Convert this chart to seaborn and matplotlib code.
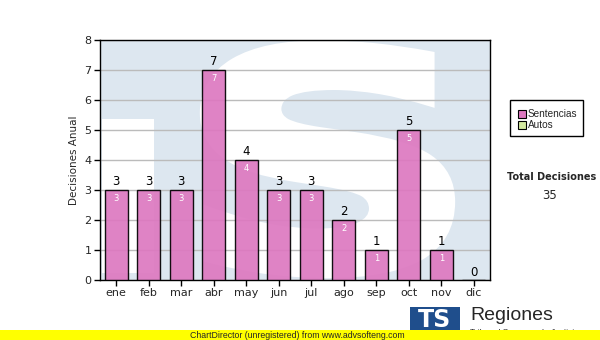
import matplotlib
matplotlib.use("Agg")
import matplotlib.pyplot as plt
from matplotlib.patches import Rectangle, PathPatch
from matplotlib.textpath import TextPath
from matplotlib.font_manager import FontProperties
from matplotlib.transforms import Affine2D
import seaborn as sns
import pandas as pd

# =========================
# Data
# =========================
MESES = ["ene", "feb", "mar", "abr", "may", "jun", "jul", "ago", "sep", "oct", "nov", "dic"]
SENTENCIAS = [3, 3, 3, 7, 4, 3, 3, 2, 1, 5, 1, 0]
SERIES = ["Sentencias", "Autos"]
TOTAL = 35

BAR_COLOR = "#dd78c0"
AUTOS_COLOR = "#d4eaa0"
WATERMARK = "#dde7f0"

df = pd.DataFrame({"mes": MESES, "valor": SENTENCIAS})

sns.set_style("white")
plt.rcParams["font.family"] = ["DejaVu Sans"]

fig = plt.figure(figsize=(6, 3.4), dpi=100)
ax = fig.add_axes([100 / 600, 1 - 280 / 340, 390 / 600, 240 / 340])

# =========================
# Watermark (light logo behind bars)
# =========================
ax.set_facecolor(WATERMARK)
ax.add_patch(Rectangle((-0.45, 0.23), 1.6, 5.14, facecolor="white", edgecolor="none", zorder=0))

s_path = TextPath((0, 0), "S", size=1, prop=FontProperties(family="DejaVu Sans", weight="bold"))
ext = s_path.get_extents()
x0, x1, y0, y1 = 2.7, 10.3, 0.2, 7.85
tr = (Affine2D().translate(-ext.x0, -ext.y0)
      .scale((x1 - x0) / ext.width, (y1 - y0) / ext.height)
      .translate(x0, y0))
ax.add_patch(PathPatch(tr.transform_path(s_path), facecolor="white", edgecolor="white",
                       linewidth=6, zorder=0.5))

# =========================
# Bars
# =========================
sns.barplot(data=df, x="mes", y="valor", color=BAR_COLOR, width=0.7,
            edgecolor="black", linewidth=1.0, saturation=1, ax=ax, zorder=3, alpha=0.92)

ax.set_ylim(0, 8)
ax.set_xlim(-0.5, 11.5)
ax.set_yticks(range(0, 9))
ax.yaxis.grid(True, color="#bbbbbb", linewidth=1.0, zorder=1)
ax.set_axisbelow(True)
for s in ax.spines.values():
    s.set_color("black")
    s.set_linewidth(1.0)
ax.tick_params(axis="both", length=4, width=1, color="black", labelsize=8, direction="out", pad=2)
ax.tick_params(axis="x", top=False, bottom=True)
ax.tick_params(axis="y", left=True)
ax.set_xlabel("")
ax.set_ylabel("Decisiones Anual", fontsize=7.5, labelpad=4)

# value labels
for i, v in enumerate(SENTENCIAS):
    ax.text(i, v + 0.05, str(v), ha="center", va="bottom", fontsize=8.5, color="black", zorder=5)
    if v > 0:
        ax.text(i, v - 0.12, str(v), ha="center", va="top", fontsize=6, color="white", zorder=5)

# =========================
# Legend + total
# =========================
fig.patches.append(Rectangle((510 / 600, 1 - 136 / 340), 73 / 600, 36 / 340, transform=fig.transFigure,
                             facecolor="white", edgecolor="black", linewidth=1))
for k, (name, col) in enumerate(zip(SERIES, [BAR_COLOR, AUTOS_COLOR])):
    yy = 114 + k * 11
    fig.patches.append(Rectangle((518 / 600, 1 - (yy + 4) / 340), 8 / 600, 8 / 340, transform=fig.transFigure,
                                 facecolor=col, edgecolor="black", linewidth=0.8))
    fig.text(528 / 600, 1 - yy / 340, name, fontsize=7.2, va="center", ha="left", family="Liberation Sans")

fig.text(552 / 600, 1 - 177 / 340, "Total Decisiones", fontsize=7, fontweight="bold", ha="center", va="center")
fig.text(550 / 600, 1 - 196 / 340, str(TOTAL), fontsize=8.5, ha="center", va="center")

# =========================
# Logo + footer
# =========================
fig.patches.append(Rectangle((410 / 600, 0), 50 / 600, 33 / 340, transform=fig.transFigure,
                             facecolor="#1f4e8c", edgecolor="none"))
fig.text(435 / 600, 1 - 320 / 340, "TS", fontsize=17, fontweight="bold", color="white",
         ha="center", va="center")
fig.text(470 / 600, 1 - 316 / 340, "Regiones", fontsize=14, ha="left", va="center", family="Liberation Sans")
fig.text(470 / 600, 1 - 333 / 340, "Tribunal Supremo de Justicia", fontsize=6, ha="left", va="center",
         family="Liberation Sans")

fig.patches.append(Rectangle((0, 0), 1, 10 / 340, transform=fig.transFigure,
                             facecolor="#ffff00", edgecolor="none", zorder=10))
fig.text(190 / 600, 1 - 335 / 340, "ChartDirector (unregistered) from www.advsofteng.com",
         fontsize=6.3, ha="left", va="center", zorder=11, family="Liberation Sans")

fig.savefig("out.png", dpi=100, facecolor="white")
